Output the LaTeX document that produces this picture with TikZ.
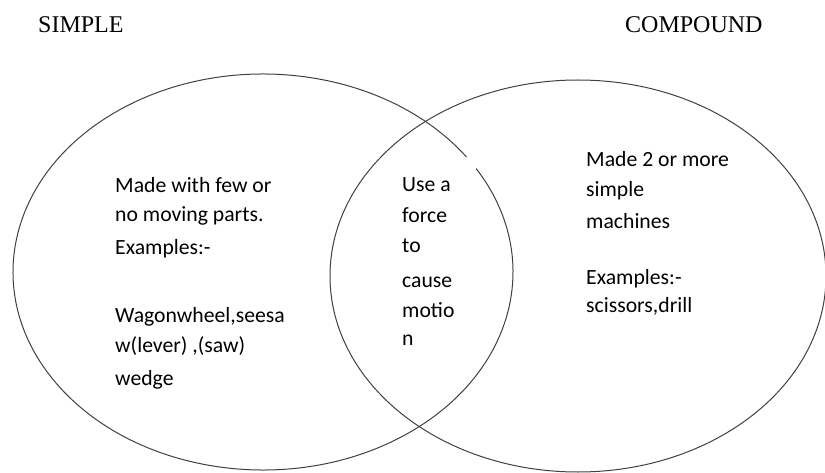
\documentclass[tikz,border=0pt]{standalone}
\usepackage{fontspec}
\setmainfont{Liberation Serif}
\newfontfamily\bodyfont{Carlito}
\usetikzlibrary{calc}
\begin{document}
\begin{tikzpicture}[x=1pt,y=1pt,
  ring/.style={draw=black!75,line width=1pt},
  title/.style={anchor=base west,inner sep=0pt,font=\fontsize{24}{24}\selectfont},
  body/.style={anchor=base west,inner sep=0pt,font=\bodyfont\fontsize{21.7}{21.7}\selectfont}]
\useasboundingbox (0,0) rectangle (825,472);
\coordinate (cl) at (263,200);
\coordinate (cr) at (578,196);
% left ellipse with a small gap at upper right
\draw[ring] ($(cl)+(35.5:250pt and 198pt)$) arc[start angle=35.5,end angle=391.5,x radius=250pt,y radius=198pt];
% right ellipse
\draw[ring] (cr) ellipse[x radius=248pt,y radius=196pt];
% titles
\node[title] (simple) at (38,439) {SIMPLE};
\node[title] (compound) at (625,439) {COMPOUND};
% left text
\node[body] (l1) at (115,279) {Made with few or};
\node[body] (l2) at (115,250) {no moving parts.};
\node[body] (l3) at (115,218) {Examples:-};
\node[body] (l4) at (115,150) {Wagonwheel,seesa};
\node[body] (l5) at (115,120) {w(lever) ,(saw)};
\node[body] (l6) at (115,87) {wedge};
% middle text
\node[body] (m1) at (402,280) {Use a};
\node[body] (m2) at (402,249) {force};
\node[body] (m3) at (402,219) {to};
\node[body] (m4) at (402,185) {cause};
\node[body] (m5) at (402,155) {motio};
\node[body] (m6) at (402,127) {n};
% right text
\node[body] (r1) at (586,305) {Made 2 or more};
\node[body] (r2) at (586,275) {simple};
\node[body] (r3) at (586,243) {machines};
\node[body] (r4) at (586,188) {Examples:-};
\node[body] (r5) at (586,160) {scissors,drill};
\end{tikzpicture}
\end{document}
